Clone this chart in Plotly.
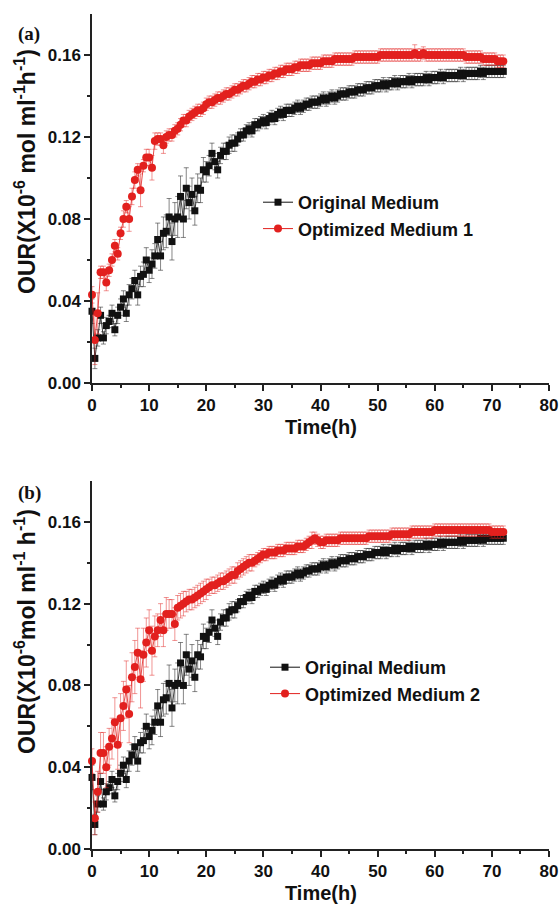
import plotly.graph_objects as go

# ---------------- data ----------------
TIME = [
    0, 0.5, 1, 1.5, 2, 2.5, 3, 3.5, 4, 4.5,
    5, 5.5, 6, 6.5, 7, 7.5, 8, 8.5, 9, 9.5,
    10, 10.5, 11, 11.5, 12, 12.5, 13, 13.5, 14, 14.5,
    15, 15.5, 16, 16.5, 17, 17.5, 18, 18.5, 19, 19.5,
    20, 20.5, 21, 21.5, 22, 22.5, 23, 23.5, 24, 24.5,
    25, 25.5, 26, 26.5, 27, 27.5, 28, 28.5, 29, 29.5,
    30, 30.5, 31, 31.5, 32, 32.5, 33, 33.5, 34, 34.5,
    35, 35.5, 36, 36.5, 37, 37.5, 38, 38.5, 39, 39.5,
    40, 40.5, 41, 41.5, 42, 42.5, 43, 43.5, 44, 44.5,
    45, 45.5, 46, 46.5, 47, 47.5, 48, 48.5, 49, 49.5,
    50, 50.5, 51, 51.5, 52, 52.5, 53, 53.5, 54, 54.5,
    55, 55.5, 56, 56.5, 57, 57.5, 58, 58.5, 59, 59.5,
    60, 60.5, 61, 61.5, 62, 62.5, 63, 63.5, 64, 64.5,
    65, 65.5, 66, 66.5, 67, 67.5, 68, 68.5, 69, 69.5,
    70, 70.5, 71, 71.5, 72,
]

ORIGINAL = [
    0.035, 0.012, 0.022, 0.033, 0.022, 0.028, 0.030, 0.034, 0.026, 0.033,
    0.037, 0.041, 0.034, 0.043, 0.046, 0.050, 0.043, 0.052, 0.053, 0.060,
    0.055, 0.058, 0.062, 0.070, 0.062, 0.073, 0.074, 0.081, 0.069, 0.080,
    0.081, 0.091, 0.080, 0.095, 0.088, 0.092, 0.084, 0.095, 0.094, 0.104,
    0.103, 0.106, 0.112, 0.108, 0.104, 0.111, 0.113, 0.113, 0.116, 0.117,
    0.117, 0.119, 0.121, 0.121, 0.123, 0.124, 0.123, 0.126, 0.126, 0.127,
    0.128, 0.127, 0.129, 0.130, 0.129, 0.131, 0.132, 0.131, 0.133, 0.133,
    0.133, 0.134, 0.135, 0.134, 0.135, 0.136, 0.136, 0.137, 0.137, 0.137,
    0.138, 0.139, 0.138, 0.139, 0.140, 0.139, 0.140, 0.141, 0.141, 0.141,
    0.142, 0.142, 0.142, 0.143, 0.143, 0.143, 0.144, 0.144, 0.144, 0.145,
    0.145, 0.145, 0.146, 0.145, 0.146, 0.146, 0.147, 0.146, 0.147, 0.147,
    0.147, 0.148, 0.147, 0.148, 0.148, 0.148, 0.148, 0.149, 0.148, 0.149,
    0.149, 0.149, 0.150, 0.149, 0.150, 0.150, 0.150, 0.150, 0.150, 0.151,
    0.150, 0.151, 0.151, 0.151, 0.151, 0.151, 0.152, 0.151, 0.152, 0.152,
    0.152, 0.152, 0.152, 0.152, 0.152,
]
ORIGINAL_ERR = [
    0.006, 0.005, 0.004, 0.004, 0.003, 0.004, 0.003, 0.004, 0.003, 0.004,
    0.004, 0.004, 0.004, 0.005, 0.005, 0.005, 0.005, 0.005, 0.006, 0.006,
    0.006, 0.007, 0.006, 0.008, 0.007, 0.008, 0.008, 0.009, 0.009, 0.008,
    0.010, 0.010, 0.009, 0.010, 0.008, 0.008, 0.007, 0.007, 0.006, 0.006,
    0.005, 0.005, 0.005, 0.004, 0.004, 0.004, 0.004, 0.004, 0.004, 0.004,
    0.004, 0.003, 0.003, 0.003, 0.003, 0.003, 0.003, 0.003, 0.003, 0.003,
    0.003, 0.003, 0.003, 0.003, 0.003, 0.003, 0.003, 0.003, 0.003, 0.003,
    0.003, 0.003, 0.003, 0.003, 0.003, 0.003, 0.003, 0.003, 0.003, 0.003,
    0.003, 0.003, 0.003, 0.003, 0.003, 0.003, 0.003, 0.003, 0.003, 0.003,
    0.003, 0.003, 0.003, 0.003, 0.003, 0.003, 0.003, 0.003, 0.003, 0.003,
    0.003, 0.003, 0.003, 0.003, 0.003, 0.003, 0.003, 0.003, 0.003, 0.003,
    0.003, 0.003, 0.003, 0.003, 0.003, 0.003, 0.003, 0.003, 0.003, 0.003,
    0.003, 0.003, 0.003, 0.003, 0.003, 0.003, 0.003, 0.003, 0.003, 0.003,
    0.003, 0.003, 0.003, 0.003, 0.003, 0.003, 0.003, 0.003, 0.003, 0.003,
    0.003, 0.003, 0.003, 0.003, 0.003,
]

OPTIMIZED_1 = [
    0.043, 0.021, 0.034, 0.054, 0.054, 0.049, 0.055, 0.060, 0.067, 0.063,
    0.073, 0.080, 0.086, 0.080, 0.091, 0.099, 0.104, 0.094, 0.106, 0.110,
    0.110, 0.105, 0.118, 0.119, 0.119, 0.116, 0.120, 0.121, 0.121, 0.123,
    0.124, 0.126, 0.128, 0.128, 0.130, 0.131, 0.132, 0.133, 0.133, 0.134,
    0.136, 0.137, 0.137, 0.138, 0.139, 0.139, 0.140, 0.141, 0.141, 0.142,
    0.143, 0.143, 0.144, 0.145, 0.145, 0.146, 0.147, 0.147, 0.148, 0.148,
    0.149, 0.149, 0.150, 0.150, 0.151, 0.151, 0.152, 0.152, 0.153, 0.153,
    0.153, 0.154, 0.154, 0.155, 0.155, 0.155, 0.155, 0.156, 0.156, 0.156,
    0.156, 0.157, 0.157, 0.157, 0.157, 0.158, 0.158, 0.158, 0.158, 0.158,
    0.158, 0.158, 0.159, 0.159, 0.159, 0.159, 0.159, 0.159, 0.159, 0.159,
    0.159, 0.160, 0.160, 0.160, 0.160, 0.160, 0.160, 0.160, 0.160, 0.160,
    0.160, 0.160, 0.160, 0.161, 0.160, 0.160, 0.161, 0.160, 0.160, 0.160,
    0.160, 0.160, 0.160, 0.160, 0.160, 0.160, 0.160, 0.160, 0.160, 0.160,
    0.160, 0.159, 0.159, 0.159, 0.159, 0.159, 0.159, 0.158, 0.158, 0.158,
    0.158, 0.158, 0.157, 0.157, 0.157,
]
OPTIMIZED_1_ERR = [
    0.004, 0.012, 0.010, 0.003, 0.003, 0.004, 0.003, 0.003, 0.003, 0.003,
    0.003, 0.004, 0.003, 0.006, 0.004, 0.004, 0.003, 0.008, 0.003, 0.004,
    0.004, 0.006, 0.004, 0.003, 0.003, 0.004, 0.003, 0.003, 0.003, 0.003,
    0.003, 0.003, 0.003, 0.003, 0.003, 0.003, 0.003, 0.003, 0.003, 0.003,
    0.003, 0.003, 0.003, 0.003, 0.003, 0.003, 0.003, 0.003, 0.003, 0.003,
    0.003, 0.003, 0.003, 0.003, 0.003, 0.003, 0.003, 0.003, 0.003, 0.003,
    0.003, 0.003, 0.003, 0.003, 0.003, 0.003, 0.003, 0.003, 0.003, 0.003,
    0.003, 0.003, 0.003, 0.003, 0.003, 0.003, 0.003, 0.003, 0.003, 0.003,
    0.003, 0.003, 0.003, 0.003, 0.003, 0.003, 0.003, 0.003, 0.003, 0.003,
    0.003, 0.003, 0.003, 0.003, 0.003, 0.003, 0.003, 0.003, 0.003, 0.003,
    0.003, 0.003, 0.003, 0.003, 0.003, 0.003, 0.003, 0.003, 0.003, 0.003,
    0.003, 0.003, 0.003, 0.004, 0.003, 0.003, 0.003, 0.003, 0.003, 0.003,
    0.003, 0.003, 0.003, 0.003, 0.003, 0.003, 0.003, 0.003, 0.003, 0.003,
    0.003, 0.003, 0.003, 0.003, 0.003, 0.003, 0.003, 0.003, 0.003, 0.003,
    0.003, 0.003, 0.003, 0.003, 0.003,
]

OPTIMIZED_2 = [
    0.043, 0.015, 0.028, 0.047, 0.047, 0.040, 0.050, 0.054, 0.062, 0.051,
    0.064, 0.070, 0.078, 0.066, 0.084, 0.089, 0.096, 0.083, 0.095, 0.101,
    0.107, 0.097, 0.104, 0.107, 0.112, 0.107, 0.115, 0.115, 0.115, 0.110,
    0.118, 0.119, 0.120, 0.121, 0.122, 0.122, 0.123, 0.124, 0.125, 0.126,
    0.127, 0.128, 0.129, 0.129, 0.130, 0.131, 0.131, 0.132, 0.133, 0.134,
    0.134, 0.136, 0.137, 0.138, 0.139, 0.140, 0.140, 0.141, 0.142, 0.143,
    0.144, 0.144, 0.145, 0.145, 0.145, 0.146, 0.146, 0.146, 0.147, 0.147,
    0.147, 0.147, 0.148, 0.148, 0.148, 0.149, 0.150, 0.151, 0.152, 0.151,
    0.150, 0.150, 0.151, 0.151, 0.151, 0.151, 0.151, 0.152, 0.152, 0.152,
    0.152, 0.152, 0.152, 0.152, 0.152, 0.152, 0.152, 0.153, 0.153, 0.153,
    0.153, 0.153, 0.153, 0.153, 0.153, 0.154, 0.154, 0.154, 0.154, 0.154,
    0.154, 0.154, 0.155, 0.155, 0.155, 0.155, 0.155, 0.155, 0.155, 0.155,
    0.156, 0.156, 0.156, 0.156, 0.156, 0.156, 0.156, 0.156, 0.156, 0.156,
    0.156, 0.156, 0.156, 0.156, 0.156, 0.156, 0.156, 0.156, 0.156, 0.156,
    0.155, 0.155, 0.155, 0.155, 0.155,
]
OPTIMIZED_2_ERR = [
    0.006, 0.008, 0.010, 0.010, 0.010, 0.010, 0.009, 0.010, 0.012, 0.012,
    0.012, 0.012, 0.014, 0.014, 0.012, 0.013, 0.012, 0.014, 0.013, 0.012,
    0.010, 0.012, 0.010, 0.008, 0.008, 0.008, 0.008, 0.007, 0.007, 0.008,
    0.006, 0.006, 0.006, 0.005, 0.005, 0.005, 0.005, 0.005, 0.005, 0.005,
    0.005, 0.004, 0.004, 0.004, 0.004, 0.004, 0.004, 0.004, 0.004, 0.004,
    0.004, 0.004, 0.004, 0.004, 0.004, 0.004, 0.004, 0.003, 0.003, 0.003,
    0.003, 0.003, 0.003, 0.003, 0.003, 0.003, 0.003, 0.003, 0.003, 0.003,
    0.003, 0.003, 0.003, 0.003, 0.003, 0.003, 0.003, 0.004, 0.003, 0.003,
    0.003, 0.003, 0.003, 0.003, 0.003, 0.003, 0.003, 0.003, 0.003, 0.003,
    0.003, 0.003, 0.003, 0.003, 0.003, 0.003, 0.003, 0.003, 0.003, 0.003,
    0.003, 0.003, 0.003, 0.003, 0.003, 0.003, 0.003, 0.003, 0.003, 0.003,
    0.003, 0.003, 0.003, 0.003, 0.003, 0.003, 0.003, 0.003, 0.003, 0.003,
    0.003, 0.003, 0.003, 0.003, 0.003, 0.003, 0.003, 0.003, 0.003, 0.003,
    0.003, 0.003, 0.003, 0.003, 0.003, 0.003, 0.003, 0.003, 0.003, 0.003,
    0.003, 0.003, 0.003, 0.003, 0.003,
]

X_TICKS = [0, 10, 20, 30, 40, 50, 60, 70, 80]
Y_TICKS = [0.00, 0.04, 0.08, 0.12, 0.16]
Y_TICK_LABELS = ["0.00", "0.04", "0.08", "0.12", "0.16"]

# ---------------- figure ----------------
W, H = 559, 907
BLACK = "#111111"
RED = "rgb(226,32,30)"
SANS = "Liberation Sans, Arial, sans-serif"


def px_x(p):
    return p / W


def px_y(p):
    return 1 - p / H


fig = go.Figure()


def add_series(y, err, name, color, errcolor, symbol, size, xa, ya, leg):
    # data trace (no legend entry, so the legend shows a clean line+symbol)
    fig.add_trace(go.Scatter(
        x=TIME, y=y, name=name, mode="lines+markers", showlegend=False,
        line=dict(color=color, width=0.8),
        marker=dict(symbol=symbol, size=size, color=color, line=dict(width=0)),
        error_y=dict(type="data", array=err, visible=True, color=errcolor,
                     thickness=0.8, width=2.5),
        xaxis=xa, yaxis=ya, cliponaxis=False,
    ))
    # legend entry
    fig.add_trace(go.Scatter(
        x=[None], y=[None], name=name, mode="lines+markers", showlegend=True,
        line=dict(color=color, width=1),
        marker=dict(symbol=symbol, size=size, color=color, line=dict(width=0)),
        xaxis=xa, yaxis=ya, legend=leg,
    ))


add_series(ORIGINAL, ORIGINAL_ERR, "Original Medium", BLACK, "rgba(40,40,40,0.7)",
           "square", 7, "x", "y", "legend")
add_series(OPTIMIZED_1, OPTIMIZED_1_ERR, "Optimized Medium 1", RED, "rgba(226,32,30,0.6)",
           "circle", 8, "x", "y", "legend")
add_series(ORIGINAL, ORIGINAL_ERR, "Original Medium", BLACK, "rgba(40,40,40,0.7)",
           "square", 7, "x2", "y2", "legend2")
add_series(OPTIMIZED_2, OPTIMIZED_2_ERR, "Optimized Medium 2", RED, "rgba(226,32,30,0.6)",
           "circle", 8, "x2", "y2", "legend2")

tickfont = dict(family=SANS, size=17, color="#111111", weight="bold")
xdom = [px_x(92), px_x(549)]

common_x = dict(
    range=[0, 80], tickvals=X_TICKS, ticks="outside", ticklen=6, tickwidth=1.5,
    tickcolor="#222", showline=True, linecolor="#222", linewidth=1.5,
    showgrid=False, zeroline=False, tickfont=tickfont, automargin=False,
    minor=dict(dtick=5, ticks="outside", ticklen=3, tickwidth=1.5, tickcolor="#222"),
    domain=xdom,
)
common_y = dict(
    range=[0, 0.18], tickvals=Y_TICKS, ticktext=Y_TICK_LABELS, ticks="outside",
    ticklen=6, tickwidth=1.5, tickcolor="#222", showline=True, linecolor="#222",
    linewidth=1.5, showgrid=False, zeroline=False, tickfont=tickfont, automargin=False,
    minor=dict(tickvals=[0.02, 0.06, 0.10, 0.14], ticks="outside", ticklen=3,
               tickwidth=1.5, tickcolor="#222"),
)

legend_font = dict(family=SANS, size=18, color="#111", weight="bold")
fig.update_layout(
    width=W, height=H,
    margin=dict(l=0, r=0, t=0, b=0),
    paper_bgcolor="white", plot_bgcolor="white",
    xaxis=dict(anchor="y", **common_x),
    yaxis=dict(anchor="x", domain=[px_y(383), px_y(14)], **common_y),
    xaxis2=dict(anchor="y2", **common_x),
    yaxis2=dict(anchor="x2", domain=[px_y(849), px_y(481)], **common_y),
    legend=dict(x=px_x(258), y=px_y(184), xanchor="left", yanchor="top",
                bgcolor="rgba(0,0,0,0)", font=legend_font,
                tracegroupgap=0, itemsizing="trace"),
    legend2=dict(x=px_x(265), y=px_y(649), xanchor="left", yanchor="top",
                 bgcolor="rgba(0,0,0,0)", font=legend_font,
                 tracegroupgap=0, itemsizing="trace"),
    showlegend=True,
)

annotations = [
    dict(text="OUR(X10<sup>-6</sup> mol ml<sup>-1</sup>h<sup>-1</sup>)",
         x=px_x(25), y=px_y(172), textangle=-90, size=23),
    dict(text="OUR(X10<sup>-6</sup>mol ml<sup>-1</sup> h<sup>-1</sup>)",
         x=px_x(25), y=px_y(632), textangle=-90, size=23),
    dict(text="Time(h)", x=px_x(321), y=px_y(427), textangle=0, size=20),
    dict(text="Time(h)", x=px_x(321), y=px_y(893), textangle=0, size=20),
]
for a in annotations:
    fig.add_annotation(xref="paper", yref="paper", showarrow=False,
                       xanchor="center", yanchor="middle",
                       text=a["text"], x=a["x"], y=a["y"], textangle=a["textangle"],
                       font=dict(family=SANS, size=a["size"], color="#111", weight="bold"))

for lbl, yy in [("(a)", 34), ("(b)", 493)]:
    fig.add_annotation(xref="paper", yref="paper", showarrow=False,
                       x=px_x(29), y=px_y(yy), xanchor="center", yanchor="middle",
                       text=lbl, font=dict(family="Liberation Serif, Times New Roman, serif",
                                           size=19, color="#111", weight="bold"))

fig.write_html(
    "out.html",
    config={"displayModeBar": False},
    post_script="document.body.style.margin='0';document.body.style.overflow='hidden';",
)
